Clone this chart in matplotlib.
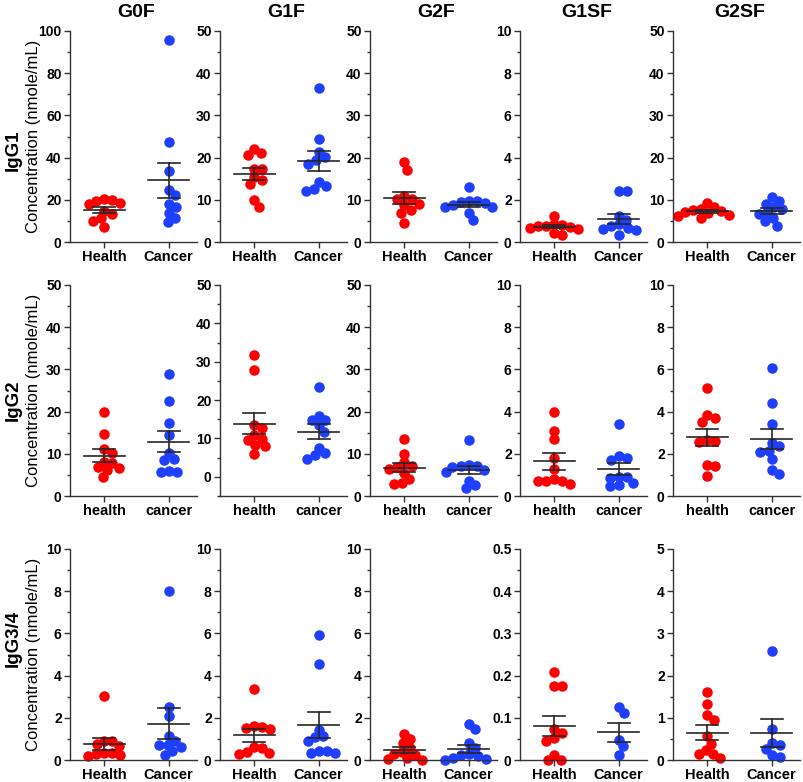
import numpy as np
import matplotlib
matplotlib.use('Agg')
import matplotlib.pyplot as plt
import matplotlib.transforms as mtransforms
from matplotlib.ticker import MultipleLocator, FixedLocator, FuncFormatter

plt.rcParams['font.family'] = ['Liberation Sans', 'DejaVu Sans']

# ---------------- data ----------------
glycans = ['G0F', 'G1F', 'G2F', 'G1SF', 'G2SF']
subclasses = ['IgG1', 'IgG2', 'IgG3/4']
groups_upper = ['Health', 'Cancer']
groups_lower = ['health', 'cancer']
y_label = 'Concentration (nmole/mL)'

# IgG1
igg1_g0f_health = [17.9, 19.7, 20.2, 19.4, 18.6, 13.4, 14.7, 10.0, 11.2, 7.1]
igg1_g0f_cancer = [95.6, 47.4, 33.6, 24.8, 22.1, 17.9, 16.6, 13.9, 11.5, 9.3]
igg1_g1f_health = [22.1, 20.7, 21.0, 17.4, 17.4, 14.6, 15.4, 13.7, 9.9, 8.3]
igg1_g1f_cancer = [36.5, 24.5, 21.3, 19.5, 20.1, 18.6, 14.2, 12.1, 13.2, 12.6]
igg1_g2f_health = [18.9, 17.1, 10.8, 10.2, 10.1, 9.1, 8.7, 7.7, 6.9, 4.4]
igg1_g2f_cancer = [13.0, 9.8, 9.6, 9.5, 9.2, 8.7, 8.3, 8.2, 6.8, 5.2]
igg1_g1sf_health = [1.25, 0.85, 0.8, 0.78, 0.75, 0.72, 0.68, 0.62, 0.45, 0.32]
igg1_g1sf_cancer = [2.44, 2.40, 1.25, 1.05, 0.85, 0.75, 0.68, 0.63, 0.55, 0.33]
igg1_g2sf_health = [9.2, 8.3, 7.9, 7.6, 7.3, 7.1, 6.9, 6.5, 6.2, 5.8]
igg1_g2sf_cancer = [10.6, 9.8, 9.1, 8.2, 7.8, 7.0, 6.6, 5.6, 4.9, 3.9]

# IgG2
igg2_g0f_health = [19.8, 14.7, 11.1, 10.3, 8.0, 7.8, 6.8, 6.6, 6.2, 4.5]
igg2_g0f_cancer = [29.0, 22.6, 17.3, 14.5, 10.2, 8.8, 8.6, 6.0, 5.8, 5.6]
igg2_g1f_health = [31.7, 27.8, 12.7, 13.4, 9.5, 9.9, 10.8, 8.4, 8.0, 6.0]
igg2_g1f_cancer = [23.4, 14.7, 15.9, 14.7, 13.5, 11.8, 6.3, 7.5, 4.7, 5.6]
igg2_g2f_health = [13.4, 10.0, 8.0, 7.2, 6.9, 6.4, 5.5, 4.0, 3.1, 2.8]
igg2_g2f_cancer = [13.3, 7.4, 7.2, 7.0, 6.9, 6.2, 5.8, 3.6, 2.5, 1.8]
igg2_g1sf_health = [4.0, 3.1, 2.7, 1.8, 1.3, 0.8, 0.72, 0.7, 0.7, 0.55]
igg2_g1sf_cancer = [3.4, 1.88, 1.78, 1.7, 0.9, 0.88, 0.86, 0.6, 0.5, 0.46]
igg2_g2sf_health = [5.13, 3.83, 3.72, 3.52, 2.67, 2.62, 2.54, 1.44, 1.48, 0.94]
igg2_g2sf_cancer = [6.08, 4.43, 3.41, 2.39, 2.51, 2.10, 2.15, 1.73, 1.05, 1.21]

# IgG3/4
igg34_g0f_health = [3.05, 0.9, 0.88, 0.75, 0.65, 0.35, 0.32, 0.28, 0.22, 0.2]
igg34_g0f_cancer = [8.01, 2.49, 2.10, 1.12, 0.88, 0.73, 0.69, 0.6, 0.41, 0.25]
igg34_g1f_health = [3.35, 1.6, 1.55, 1.5, 1.45, 0.6, 0.55, 0.4, 0.32, 0.3]
igg34_g1f_cancer = [5.93, 4.54, 1.44, 1.07, 1.12, 0.88, 0.33, 0.44, 0.33, 0.44]
igg34_g2f_health = [1.25, 1.0, 0.8, 0.55, 0.4, 0.3, 0.25, 0.1, 0.05, 0.02]
igg34_g2f_cancer = [1.72, 1.45, 0.8, 0.55, 0.3, 0.25, 0.2, 0.1, 0.05, 0.02]
igg34_g1sf_health = [0.208, 0.176, 0.176, 0.073, 0.065, 0.051, 0.046, 0.012, 0.0, 0.0]
igg34_g1sf_cancer = [0.125, 0.111, 0.048, 0.032, 0.013]
igg34_g2sf_health = [1.62, 1.33, 1.07, 0.95, 0.56, 0.39, 0.24, 0.14, 0.14, 0.05]
igg34_g2sf_cancer = [2.59, 0.74, 0.40, 0.27, 0.36, 0.11, 0.06]

# axis ranges (ymin, ymax, major step)
y_ranges = [
    [(0, 100, 20), (0, 50, 10), (0, 50, 10), (0, 10, 2), (0, 50, 10)],
    [(0, 50, 10), (-5, 50, 10), (0, 50, 10), (0, 10, 2), (0, 10, 2)],
    [(0, 10, 2), (0, 10, 2), (0, 10, 2), (0, 0.5, 0.1), (0, 5, 1)],
]

panels = [
    [(igg1_g0f_health, igg1_g0f_cancer), (igg1_g1f_health, igg1_g1f_cancer),
     (igg1_g2f_health, igg1_g2f_cancer), (igg1_g1sf_health, igg1_g1sf_cancer),
     (igg1_g2sf_health, igg1_g2sf_cancer)],
    [(igg2_g0f_health, igg2_g0f_cancer), (igg2_g1f_health, igg2_g1f_cancer),
     (igg2_g2f_health, igg2_g2f_cancer), (igg2_g1sf_health, igg2_g1sf_cancer),
     (igg2_g2sf_health, igg2_g2sf_cancer)],
    [(igg34_g0f_health, igg34_g0f_cancer), (igg34_g1f_health, igg34_g1f_cancer),
     (igg34_g2f_health, igg34_g2f_cancer), (igg34_g1sf_health, igg34_g1sf_cancer),
     (igg34_g2sf_health, igg34_g2sf_cancer)],
]

# ---------------- layout / style ----------------
W, H = 804, 782
DPI = 100
lefts = [70, 220, 370, 520, 673]
tops = [31, 285, 549]
AX_W, AX_H = 127, 211
XLIM = (-0.53, 1.44)
colors = ['#ff0000', '#1f3fff']
line_col = '#262626'
spine_col = '#333333'
MARKER_PX = 10.5
SWARM_PX = 8.2
subclass_label_y = [0.436, 0.453, 0.578]   # axes fraction for row labels


def swarm_offsets(values, ypx_per_unit, xpx_per_unit, diam):
    values = np.asarray(values, dtype=float)
    order = np.argsort(-values, kind='stable')
    placed = []
    offs = np.zeros(len(values))
    for i in order:
        y = values[i] * ypx_per_unit
        cands = [0.0]
        for xp, yp in placed:
            dy = y - yp
            if abs(dy) < diam:
                dx = np.sqrt(diam ** 2 - dy ** 2)
                cands += [xp + dx, xp - dx]
        cands.sort(key=lambda c: (round(abs(c), 6), -c))
        for c in cands:
            if all((c - xp) ** 2 + (y - yp) ** 2 >= diam ** 2 - 1e-6 for xp, yp in placed):
                offs[i] = c / xpx_per_unit
                placed.append((c, y))
                break
    return offs


fmt = FuncFormatter(lambda v, p: ('%g' % round(v, 6)))

fig = plt.figure(figsize=(W / DPI, H / DPI), dpi=DPI)

for r in range(3):
    for c in range(5):
        l, t = lefts[c], tops[r]
        ax = fig.add_axes([l / W, (H - t - AX_H) / H, AX_W / W, AX_H / H])
        ymin, ymax, step = y_ranges[r][c]
        ax.set_xlim(*XLIM)
        ax.set_ylim(ymin, ymax)
        ypx = AX_H / (ymax - ymin)
        xpx = AX_W / (XLIM[1] - XLIM[0])
        for g, vals in enumerate(panels[r][c]):
            vals = np.asarray(vals, dtype=float)
            offs = swarm_offsets(vals, ypx, xpx, SWARM_PX)
            ax.scatter(g + offs, vals, s=(MARKER_PX * 72 / DPI) ** 2,
                       color=colors[g], linewidths=0, zorder=2, clip_on=False)
            m = vals.mean()
            sem = vals.std(ddof=1) / np.sqrt(len(vals))
            ax.plot([g - 0.32, g + 0.32], [m, m], color=line_col, lw=1.2, zorder=3)
            ax.plot([g, g], [m - sem, m + sem], color=line_col, lw=1.2, zorder=3)
            for yv in (m - sem, m + sem):
                ax.plot([g - 0.17, g + 0.17], [yv, yv], color=line_col, lw=1.2, zorder=3)

        for s in ('top', 'right'):
            ax.spines[s].set_visible(False)
        for s in ('left', 'bottom'):
            ax.spines[s].set_color(spine_col)
            ax.spines[s].set_linewidth(1.0)

        ax.yaxis.set_major_locator(FixedLocator(np.arange(0, ymax + step / 2, step)))
        ax.yaxis.set_minor_locator(MultipleLocator(step / 2))
        ax.yaxis.set_major_formatter(fmt)
        ax.set_xticks([0, 1])
        ax.set_xticklabels(groups_lower if r == 1 else groups_upper,
                           fontsize=10.5, fontweight='bold')
        ax.tick_params(axis='y', which='major', direction='out', length=4, width=1,
                       color=spine_col, labelsize=10, pad=2)
        ax.tick_params(axis='y', which='minor', direction='out', length=2.5, width=1,
                       color=spine_col)
        ax.tick_params(axis='x', which='major', direction='out', length=4, width=1,
                       color=spine_col, pad=2)
        for lab in ax.get_yticklabels():
            lab.set_fontweight('bold')

        if r == 0:
            trans = mtransforms.blended_transform_factory(ax.transData, ax.transAxes)
            ax.text(0.5, 1.09, glycans[c], transform=trans, ha='center', va='center',
                    fontsize=14, fontweight='bold')
        if c == 0:
            ax.text(-0.45, subclass_label_y[r], subclasses[r], transform=ax.transAxes,
                    rotation=90, ha='center', va='center', fontsize=13.5,
                    fontweight='bold')
            ax.text(-0.285, 0.5, y_label, transform=ax.transAxes, rotation=90,
                    ha='center', va='center', fontsize=12)

fig.savefig('out.png', dpi=DPI)
